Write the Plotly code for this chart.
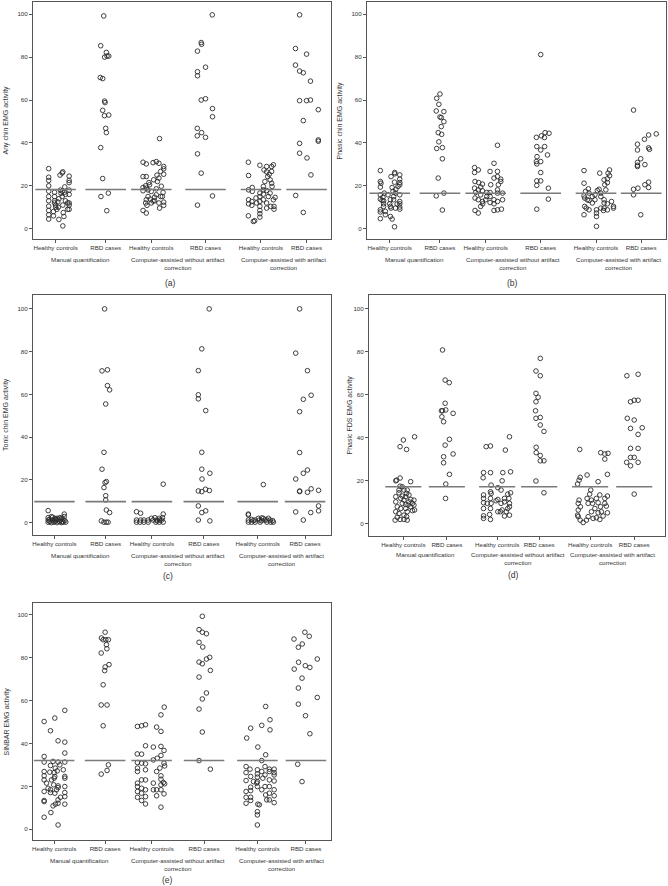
import plotly.graph_objects as go

# category labels
groups = ['Healthy controls', 'RBD cases'] * 3
methods = ['Manual quantification',
           'Computer-assisted without artifact<br>correction',
           'Computer-assisted with artifact<br>correction']
captions = ['(a)', '(b)', '(c)', '(d)', '(e)']
ytitles = ['Any chin EMG activity', 'Phasic chin EMG activity', 'Tonic chin EMG activity',
           'Phasic FDS EMG activity', 'SINBAR EMG activity']

# cut-off (horizontal line) per panel
cutoffs = [18.3, 16.5, 9.8, 17.2, 32.0]

# points as (jitter, value); jitter = horizontal scatter, -1..1
# ---- (a) any chin
a_hc_man = [(-0.32,28),(-0.32,24),(-0.32,22.5),(-0.32,20),(-0.32,17.5),(-0.32,15),(-0.32,13),(-0.32,10.5),(-0.32,8.5),(-0.32,6.5),(-0.32,4.5),
            (-0.05,17),(-0.05,15),(-0.05,13),(-0.05,12),(0,11),(0,10),(0.05,9),(-0.1,8),(-0.1,6),(0.15,14),(0.1,12.5),(0.12,10),(0.15,4.3),(0.2,25),
            (0.22,18),(0.25,16.5),(0.3,26),(0.33,26.5),(0.3,17.5),(0.3,15),(0.33,11),(0.35,7.5),(0.38,5.7),(0.33,1.3),(0.42,19.5),(0.4,17),(0.45,16),
            (0.45,13),(0.55,12),(0.55,9),(0.62,24.5),(0.62,22.5),(0.62,21.5),(0.62,18),(0.62,16),(0.62,12),(0.62,11),(0.62,9)]
a_rbd_man = [(-0.09,99.2),(-0.23,85.3),(0.03,82.2),(-0.05,80),(0.06,80.5),(0.14,80.5),(-0.25,70.5),(-0.14,70),(-0.05,59.5),(-0.03,58.8),(-0.14,55.2),
             (-0.06,52.7),(0.14,53),(0,46.8),(0.03,44.8),(-0.23,37.8),(-0.14,23.4),(0.12,16.6),(-0.22,15),(0.05,8.4)]
a_hc_wo = [(-0.38,31),(-0.23,30.2),(0.08,30.8),(0.23,31.3),(0.35,30.5),(0.38,42),(0.57,29),(0.57,27.9),(0.43,26.7),(0.57,25.4),(-0.38,24.3),(-0.23,24.3),
           (0.35,23.6),(0.11,22.8),(0.28,22),(-0.11,21.5),(-0.26,20),(-0.08,20.5),(-0.38,19.2),(-0.23,18.9),(-0.38,17.7),(-0.15,18.1),(0,17.4),(0.23,18.6),
           (0.54,16.9),(0.43,15),(0.23,15.8),(0.15,14.7),(-0.23,13.5),(-0.05,13.8),(0.15,13),(-0.26,12),(-0.2,10.9),(0.35,12),(0.57,12.4),(0.57,10.9),
           (0.08,12.9),(0.38,9.6),(-0.38,8.5),(-0.23,7.3),(0.51,15),(0,12),(-0.15,15),(0.26,25),(0.46,19.8)]
a_rbd_wo = [(0.31,99.7),(-0.2,86.8),(-0.18,86),(-0.37,82.8),(-0.37,73.2),(-0.37,71.3),(0,75.3),(-0.2,60),(0,60.6),(0.32,56),(0.32,52.2),(-0.38,46.8),
            (-0.18,44.8),(-0.38,43.3),(0,42.6),(-0.37,34.9),(-0.2,25.9),(0.32,15.3),(-0.37,11)]
a_hc_w = [(-0.58,31),(-0.57,24.8),(-0.4,19.2),(-0.4,17.4),(-0.57,18.1),(-0.57,13.5),(-0.57,11.6),(-0.42,10.9),(-0.42,12.7),(-0.58,6),(-0.29,3.7),
          (-0.05,5.4),(-0.05,7),(-0.05,8.5),(-0.05,10.4),(-0.05,12.7),(-0.05,15),(-0.05,16.6),(0.11,18.1),(0.11,19.7),(-0.05,29.6),(0.14,27.4),(0.26,29),
          (0.26,26.5),(0.31,24.3),(0.42,22.8),(0.49,21.2),(0.49,29),(0.38,25.4),(0.49,26.7),(0.57,29.8),(0.18,22),(0.11,13.5),(0.26,12),(0.34,15),
          (0.42,16.6),(0.51,19.7),(0.57,13.5),(0.6,10.4),(0.6,9.1),(0.45,10.4),(0.26,9.6),(0.65,14.6),(0.11,16.1),(0.26,17.8),(-0.23,14.3),(-0.2,12),(-0.35,3.4)]
a_rbd_w = [(-0.32,99.7),(-0.51,84),(0,81.4),(-0.51,76.3),(-0.32,73.5),(-0.15,72.7),(0.18,68.8),(-0.32,59.7),(0,59.7),(0.18,60),(0.54,55.5),(-0.15,50.4),
           (0.54,41.4),(0.54,40.8),(-0.32,39.8),(0.02,33),(-0.32,35.2),(0.2,25.1),(-0.5,15.5),(-0.15,7.6)]

# ---- (b) phasic chin
b_hc_man = [(-0.43,27.1),(-0.43,22),(-0.4,21.2),(-0.43,19.4),(-0.43,15.8),(-0.43,13.8),(-0.35,13.2),(-0.43,8.8),(-0.43,7.8),(-0.43,4.7),(-0.28,13),
            (-0.28,11.6),(-0.28,10.4),(-0.31,14.7),(-0.25,16.6),(-0.2,8.1),(-0.2,6.5),(0.03,13.5),(0.03,10.4),(0.06,9.6),(0,11.6),(0.03,5.7),(0.11,4.5),
            (0.22,0.9),(0.18,15),(0.15,17.4),(0.06,24.3),(0.23,25.6),(0.23,26.2),(0.22,21.7),(0.28,18.4),(0.26,16.6),(0.18,13.5),(0.26,9.6),(0.34,11.5),
            (0.38,19.7),(0.46,25.1),(0.46,23.1),(0.46,21.5),(0.46,20.5),(0.46,15.8),(0.46,12.7),(0.46,11.6),(0.46,10.1),(0.46,9.1),(0.11,19.2),(-0.08,15.8)]
b_rbd_man = [(0,62.8),(-0.15,60.8),(-0.05,58),(-0.17,54.9),(0.18,54.6),(0,52.1),(0.06,51.8),(0.18,49.9),(0.06,47.6),(-0.08,44.8),(0.08,44),(-0.05,40.5),
             (0.11,37.8),(-0.15,37.4),(0.11,32.6),(-0.08,23.6),(0.18,16.6),(-0.17,15.3),(0.11,8.7)]
b_hc_wo = [(-0.51,28.5),(-0.34,27.4),(-0.51,26.2),(-0.49,22),(-0.32,21.5),(-0.15,20.8),(-0.23,19.4),(-0.51,18.9),(-0.34,18.1),(-0.15,17.7),(-0.46,16.9),
           (-0.23,15.8),(-0.49,14.3),(-0.34,13.5),(-0.15,12.7),(-0.14,11.6),(-0.23,10.4),(-0.49,8.5),(-0.34,7.3),(0.2,26.7),(0.38,30.5),(0.54,38.9),
           (0.54,26.7),(0.38,23.6),(0.23,20.5),(0.2,16.9),(0.2,15),(0.2,12.2),(0.54,24.3),(0.69,23.1),(0.69,22),(0.58,20.5),(0.54,18.1),(0.54,16.6),
           (0.77,16.6),(0.77,13.5),(0.54,12.7),(0.38,11.6),(0.38,13.5),(0.38,8.5),(0.54,8.8),(0.72,9.1),(0.05,16.9),(0.05,15),(0,13.5)]
b_rbd_wo = [(0,81.2),(0.2,44.8),(0.38,44.5),(0.03,43.3),(-0.2,42.6),(0.17,42.5),(-0.18,38.3),(0.18,38.3),(0,36.7),(0.31,34.4),(-0.17,33.6),(-0.2,31.3),
            (0,31.3),(-0.18,30.2),(0,26.2),(-0.18,22.3),(0,22.3),(-0.18,20.2),(0.35,18.9),(0.35,13.8),(-0.18,9.1)]
b_hc_w = [(-0.55,27.1),(-0.55,21.2),(-0.48,17.4),(-0.55,15.3),(-0.52,14.3),(-0.4,13.5),(-0.32,16.6),(-0.35,18.6),(-0.52,10.4),(-0.45,9.6),(-0.32,8.8),
          (-0.32,13.2),(-0.55,6.5),(0.02,1.1),(0.02,5.7),(0.02,7.3),(0.02,8.8),(-0.05,13.5),(-0.05,15.8),(0.06,17.8),(0.14,18.4),(0.22,16.6),(0.17,25.9),
          (0.22,15),(0.37,13.5),(0.37,22.8),(0.4,20.5),(0.52,21.5),(0.52,23.3),(0.55,25.9),(0.62,27.4),(0.62,24.7),(0.45,18.1),(0.37,12),(0.52,11.6),
          (0.71,12.7),(0.8,10.4),(0.8,9.6),(0.22,9.6),(0.37,9.6),(0.34,8.5),(0.52,8.8),(-0.17,12),(-0.17,15)]
b_rbd_w = [(-0.35,55.3),(0.69,44.2),(0.34,43.7),(0.15,41.7),(-0.17,39.4),(-0.17,36.7),(0.34,37.7),(0.38,37),(-0.02,32.6),(-0.17,30.9),(-0.17,29.6),
           (0.17,29.9),(-0.17,29),(0.34,21.7),(0.17,20.5),(0.34,19.2),(-0.15,18.9),(-0.35,18.4),(-0.35,15.8),(-0.02,6.5)]

# ---- (c) tonic chin
c_hc_man = [(-0.29,5.6),(-0.29,2.3),(-0.29,1.2),(-0.29,0.2),(-0.14,2.8),(-0.09,1.2),(-0.14,0),(0.02,2),(0.06,0.9),(0.17,1.6),(0.12,0),(0.25,2.3),
            (0.28,1.2),(0.32,0),(0.4,1.6),(0.45,4),(0.45,2.8),(0.48,0.9),(0.52,0.2),(-0.03,0.2),(-0.22,0.5),(0.22,0.5),(0.37,0.5),(0.02,0.5),(0.12,2),
            (-0.09,2.5),(0.32,2),(-0.22,1.5),(0.06,1.5),(0.4,0.2)]
c_rbd_man = [(-0.05,100),(-0.17,71),(0.08,71.5),(0.08,64.1),(0.18,62.1),(0,55.5),(-0.08,32.9),(-0.17,25),(-0.03,18.7),(0.03,19.2),(-0.08,16.4),(0,12.6),
             (0,10.6),(0.03,5.9),(0.18,4.7),(-0.2,0.8),(-0.08,0.2),(0.03,0.2),(0.11,0.2)]
c_hc_wo = [(-0.71,5.1),(-0.52,4.4),(-0.71,1.2),(-0.71,0.2),(-0.52,1.2),(-0.37,1.2),(-0.37,0.2),(-0.55,0.2),(-0.02,2),(0.06,1.2),(0.14,2.3),(0.22,1.2),
           (0.34,2),(0.34,0.2),(0.18,0.2),(0.49,2.3),(0.52,4),(0.52,18),(0.45,1.2),(0.52,0.2),(-0.17,1.2),(-0.17,0.2),(0.37,1.2),(0.25,0.8)]
c_rbd_wo = [(0.25,100),(-0.09,81.3),(-0.25,71.1),(-0.25,59.8),(-0.25,57.9),(0.09,52.4),(-0.09,32.9),(-0.09,25),(0.28,23.1),(-0.08,20.4),(-0.25,14.8),
            (-0.09,14.5),(0.08,15.6),(0.26,15),(-0.25,7.8),(0.09,5.5),(-0.09,4.7),(-0.25,1.2),(0.28,0.8)]
c_hc_w = [(-0.43,4),(-0.43,3.6),(-0.43,1.2),(-0.43,0.2),(-0.28,0.2),(-0.12,1.2),(-0.12,0.2),(0.03,2),(0.08,1.2),(0.18,0.9),(0.26,17.8),(0.26,2),
          (0.34,1.2),(0.42,0.2),(0.49,2),(0.57,1.2),(0.6,0.2),(0.69,0.9),(0.72,0.2),(0.11,0.2),(-0.2,0.9),(0.42,1.2),(-0.28,1.5),(0.18,2.2)]
c_rbd_w = [(-0.25,100),(-0.43,79.3),(0.11,71.1),(-0.08,57.7),(0.28,59.6),(-0.25,51.9),(-0.25,32.8),(0.11,24.6),(-0.08,23.1),(-0.43,20.4),(-0.25,14.5),
           (-0.25,14.8),(0.28,15.8),(0.11,14.2),(0.62,15.1),(0.62,7.8),(0.62,5.5),(-0.43,5),(0.26,4.7),(-0.08,1.2)]

# ---- (d) phasic FDS
d_hc_man = [(-0.38,1.7),(-0.35,5.6),(-0.35,10.2),(-0.35,12.6),(-0.2,14.4),(-0.15,17.5),(-0.35,20),(-0.31,20.3),(-0.15,21.3),(-0.15,35.9),(0,39),
            (0.15,34.6),(0.52,40.5),(0.34,19.6),(-0.05,17.2),(0.03,15.7),(0.15,14.1),(0.11,12.6),(0.03,11),(-0.05,9.5),(-0.12,7.1),(-0.2,4.8),(-0.28,3),
            (-0.15,2),(0.03,2),(0.18,1.7),(0.15,3.3),(0.18,5.6),(0.11,7.1),(0.22,8.7),(0.26,10.2),(0.34,11.3),(0.42,9.5),(0.49,11),(0.49,8.7),(0.52,6.4),
            (0.42,6.1),(0.34,7.9),(0.03,4),(-0.05,12.9),(0.26,13.4),(-0.12,11.8),(0.11,9),(-0.28,7.9),(-0.2,15.7),(0.18,15.7)]
d_rbd_man = [(-0.2,80.9),(-0.08,66.9),(0.11,65.7),(-0.08,56.1),(-0.25,52.6),(-0.2,52.6),(-0.05,53),(-0.23,49.8),(-0.15,47.5),(0.29,51.4),(0.12,39.3),
             (-0.08,36.6),(0.29,32.5),(-0.15,31.2),(-0.15,28.4),(0.12,23),(-0.05,18.5),(-0.06,11.8)]
d_hc_wo = [(-0.51,35.9),(-0.31,36.2),(0.38,34.3),(0.57,40.5),(-0.63,23.8),(-0.65,21.4),(-0.31,23.8),(0.26,23.8),(0.23,20),(0.62,24.2),(-0.28,18),
           (0.03,16.8),(0.18,15.7),(-0.63,13.4),(-0.63,11.8),(-0.63,9.8),(-0.63,7.1),(-0.63,3.7),(-0.63,2.5),(-0.31,14.9),(-0.28,14.1),(-0.31,11.8),
           (-0.28,9.5),(-0.31,7.1),(-0.35,4.3),(-0.31,2),(-0.46,9.5),(-0.05,10.7),(0.03,11.3),(0.18,9.5),(0.34,11.8),(0.34,10.2),(0.49,13.8),(0.54,11.8),
           (0.57,9.5),(0.49,7.1),(0.42,5.6),(0.57,4),(0.34,3.6),(0.15,5.6),(0.03,5.6),(0.23,6.4),(0.62,14.4),(0.57,7.9)]
d_rbd_wo = [(0.05,77),(-0.15,71.1),(0.05,68.9),(-0.15,60.7),(-0.05,58.9),(-0.15,56.8),(-0.17,52.6),(-0.15,49.1),(0.05,49.5),(0.05,46),(0.22,43),
            (-0.14,35.6),(-0.14,33.1),(0.05,31.8),(0.05,29.3),(0.22,29.3),(-0.15,19.9),(0.22,14.4)]
d_hc_w = [(-0.48,34.6),(-0.46,21.6),(-0.51,20.3),(-0.58,18.5),(-0.51,11),(-0.55,9.5),(-0.45,7.9),(-0.55,6.4),(-0.58,4),(-0.55,3.3),(-0.46,1.7),
          (-0.32,0.6),(-0.17,1.7),(-0.09,3.3),(-0.14,22.7),(0.03,15.7),(0.06,11),(-0.09,9.5),(-0.14,11.8),(0.11,9.5),(0.06,5.6),(0.14,2.5),(0.29,2.8),
          (0.37,19.6),(0.29,11.8),(0.37,9.8),(0.48,7.9),(0.22,7.1),(0.49,33.1),(0.68,32.5),(0.83,32.8),(0.68,30.1),(0.8,23),(0.8,12.9),(0.68,9.5),
          (0.75,8.2),(0.8,5.1),(0.6,3.6),(0.45,2),(0.37,5.1),(0.68,11.8),(0.52,5.6),(-0.02,13.8),(0.45,13.4)]
d_rbd_w = [(-0.34,68.9),(0.18,69.6),(-0.17,56.8),(0,57.5),(0.18,57.5),(-0.32,49.1),(0,48.3),(-0.17,44.4),(0.37,44.7),(0.18,41.6),(-0.17,35.1),
           (0.18,35.1),(-0.17,30.9),(0,30.9),(-0.35,28.6),(-0.17,27),(0.18,28.6),(0,13.8)]

# ---- (e) SINBAR
e_hc_man = [(-0.46,50.2),(-0.17,45.9),(0.03,51.8),(0.49,55.4),(0.18,41.2),(0.49,40.6),(0.49,35.5),(-0.46,33.9),(-0.46,31.3),(0.49,31.3),(0.18,31.3),
            (-0.05,31.6),(0.26,30),(-0.17,29.7),(0.05,28.5),(0.14,27.2),(0.42,27.7),(0.49,24.6),(0.49,23.8),(-0.46,26.9),(-0.46,24.9),(-0.46,23),
            (-0.46,17.6),(-0.46,13.4),(-0.46,12.9),(-0.46,5.6),(-0.2,26.6),(-0.12,23),(-0.02,20.7),(-0.17,18.4),(-0.17,17.1),(0,26.4),(0.03,24.6),
            (0,23.8),(0.18,20.2),(0.18,19.4),(0.03,16.8),(0.18,13.7),(0.06,11.7),(0.18,12.1),(-0.15,7.8),(0.18,2),(0.49,19.9),(0.49,17.1),(0.49,15.2),
            (0.49,11.7),(0.29,14.9),(-0.35,21.5),(-0.28,19.1),(0.11,18.4),(-0.05,10.9)]
e_rbd_man = [(0,91.8),(-0.17,89.1),(-0.09,88.3),(0.03,88.3),(0.15,88.3),(0.06,86),(0.08,84.1),(-0.18,82.1),(0.18,76.7),(0,75.6),(-0.02,73.9),(-0.09,67.3),
             (-0.18,57.9),(0.09,57.9),(-0.09,48.2),(0.15,30),(0.09,27.4),(-0.18,25.7)]
e_hc_wo = [(-0.65,47.9),(-0.46,48.2),(-0.28,48.7),(0.23,47.6),(0.43,45.6),(0.43,53.3),(0.58,56.9),(-0.28,38.9),(-0.66,35.1),(-0.46,35),(0.08,38.3),
           (0.43,38.6),(0.57,36.7),(0.43,34.4),(-0.65,31.1),(-0.46,30.8),(-0.28,30.5),(0.08,32.3),(0.26,33.1),(0.57,30.8),(0.6,29.5),(-0.65,28.5),
           (-0.65,26.9),(-0.28,27.7),(0.23,26.9),(0.38,28.5),(0.43,24.9),(0.43,23.3),(0.54,21.8),(0.6,21.2),(0.43,20.7),(-0.65,21.5),(-0.65,19.9),
           (-0.46,23),(-0.28,23),(-0.46,19.1),(-0.65,17.6),(0.08,21.5),(0.08,18.4),(0.23,18.4),(0.43,18.4),(0.57,16.5),(0.23,15.6),(-0.65,14.9),
           (-0.46,13.4),(-0.28,11.8),(0.43,10.3),(-0.28,18.4),(-0.46,16.8),(-0.28,15.2)]
e_rbd_wo = [(-0.08,99.2),(-0.23,93),(-0.08,91.8),(0.11,91.1),(-0.23,87.1),(-0.06,84.9),(0.26,80.1),(0.11,79.3),(-0.23,77.9),(-0.08,77.1),(0.29,74),
            (-0.23,70.9),(0.11,63.5),(-0.08,60.7),(-0.23,56),(-0.08,45.3),(-0.23,32),(0.29,28)]
e_hc_w = [(-0.49,42.5),(-0.31,47.1),(0.2,48.4),(0.58,51),(0.38,57.2),(0.58,46.3),(0.02,38.3),(0.38,34.7),(-0.52,29.2),(-0.52,26.4),(-0.52,22.7),
          (-0.52,17.6),(-0.52,14.9),(-0.52,12.1),(-0.34,28),(-0.31,24.6),(-0.31,19.6),(-0.31,18),(-0.31,14.9),(-0.31,13.4),(0,27.7),(0,25.8),(0,24.3),
          (0,22.2),(-0.03,21.5),(0,19.9),(0,8.2),(0,6.7),(0,2),(0.09,11.4),(0.02,11.7),(0.2,32),(0.2,26.9),(0.25,23.8),(0.35,29.2),(0.35,25.3),
          (0.35,19.9),(0.38,16),(0.43,13.7),(0.55,28),(0.55,26.9),(0.55,23),(0.55,19.9),(0.55,16.8),(0.55,13.7),(0.77,28),(0.77,26.4),(0.77,25.3),
          (0.77,22.5),(0.77,18.4),(0.77,15.6),(0.77,12.4),(0.2,18.4),(-0.18,22.2)]
e_rbd_w = [(-0.05,91.8),(0.15,89.9),(-0.55,88.6),(-0.35,84.8),(-0.17,86.3),(0.52,79.3),(-0.34,77.8),(-0.03,76.2),(0.18,75.4),(-0.54,74.6),(-0.18,70.4),
           (-0.35,65.8),(0.52,61.4),(-0.35,58.3),(-0.02,52.9),(0.18,44.5),(-0.38,30.3),(-0.18,22.2)]

panel_data = [
    [a_hc_man, a_rbd_man, a_hc_wo, a_rbd_wo, a_hc_w, a_rbd_w],
    [b_hc_man, b_rbd_man, b_hc_wo, b_rbd_wo, b_hc_w, b_rbd_w],
    [c_hc_man, c_rbd_man, c_hc_wo, c_rbd_wo, c_hc_w, c_rbd_w],
    [d_hc_man, d_rbd_man, d_hc_wo, d_rbd_wo, d_hc_w, d_rbd_w],
    [e_hc_man, e_rbd_man, e_hc_wo, e_rbd_wo, e_hc_w, e_rbd_w],
]

# layout of the five panels (category centres as fraction of the x axis)
centers = [
    [0.076, 0.244, 0.397, 0.579, 0.765, 0.918],
    [0.076, 0.244, 0.397, 0.581, 0.766, 0.917],
    [0.072, 0.244, 0.399, 0.573, 0.754, 0.913],
    [0.116, 0.263, 0.433, 0.575, 0.747, 0.896],
    [0.071, 0.242, 0.398, 0.574, 0.753, 0.916],
]
W, H = 668, 886
boxes = [  # left, right, top, bottom in px
    (33, 331, 2, 239), (367, 666, 2, 239),
    (33, 331, 295, 535), (369, 665, 295, 536),
    (33, 331, 603, 840),
]
yranges = [[-4.8, 105.7], [-4.8, 105.7], [-5.8, 106.5], [-5.7, 106.5], [-5.0, 105.4]]
cap_pos = [(170, 283), (512, 283), (168, 576), (513, 575), (167, 880)]
title_shift = [-27, -27, -27, -20, -27]
line_half = [0.068, 0.068, 0.068, 0.061, 0.068]
JIT = 0.073

FONT = 'Liberation Sans, Arial, sans-serif'
TXT = '#333333'
AX = '#555555'

fig = go.Figure()
annotations = []
layout_axes = {}

for i in range(5):
    n = '' if i == 0 else str(i + 1)
    xr, yr = 'x' + n, 'y' + n
    for k, pts in enumerate(panel_data[i]):
        c = centers[i][k]
        fig.add_trace(go.Scatter(
            x=[c + j * JIT for j, v in pts], y=[v for j, v in pts],
            xaxis=xr, yaxis=yr, mode='markers', showlegend=False,
            marker=dict(symbol='circle-open', size=4.6, color='#2b2b2b', line=dict(width=0.9)),
            hoverinfo='y'))
        lw = line_half[i]
        fig.add_trace(go.Scatter(
            x=[c - lw, c + lw], y=[cutoffs[i], cutoffs[i]], xaxis=xr, yaxis=yr,
            mode='lines', showlegend=False, hoverinfo='skip',
            line=dict(color='#7a7a7a', width=1.6)))

    l, r, t, b = boxes[i]
    common = dict(showline=True, mirror=True, linecolor=AX, linewidth=1,
                  ticks='outside', ticklen=3, tickcolor=AX, tickwidth=1,
                  showgrid=False, zeroline=False,
                  tickfont=dict(family=FONT, size=6.2, color=TXT))
    layout_axes['xaxis' + n] = dict(common, domain=[l / W, r / W], anchor=yr, range=[0, 1],
                                    tickvals=centers[i], ticktext=groups)
    layout_axes['yaxis' + n] = dict(common, domain=[1 - b / H, 1 - t / H], anchor=xr,
                                    range=yranges[i], tickvals=[0, 20, 40, 60, 80, 100])

    # y title
    annotations.append(dict(text=ytitles[i], xref=xr + ' domain', yref=yr + ' domain',
                            x=0, y=0.5, xshift=title_shift[i], xanchor='center', yanchor='middle',
                            textangle=-90, showarrow=False,
                            font=dict(family=FONT, size=7, color=TXT)))
    # method labels under each pair
    for m in range(3):
        mid = (centers[i][2 * m] + centers[i][2 * m + 1]) / 2
        annotations.append(dict(text=methods[m], xref=xr, yref=yr + ' domain', x=mid, y=0,
                                yanchor='top', yshift=-15 if i != 3 else -13, showarrow=False,
                                font=dict(family=FONT, size=6.2, color=TXT)))
    cx, cy = cap_pos[i]
    annotations.append(dict(text=captions[i], xref='paper', yref='paper', x=cx / W, y=1 - cy / H,
                            xanchor='center', yanchor='middle', showarrow=False,
                            font=dict(family=FONT, size=8.5, color=TXT)))

fig.update_layout(width=W, height=H, margin=dict(l=0, r=0, t=0, b=0),
                  paper_bgcolor='white', plot_bgcolor='white',
                  annotations=annotations, **layout_axes)

# drop the browser's default page margin so the figure sits at 0,0
fig.write_html('out.html', config={'displayModeBar': False},
               post_script="document.body.style.margin='0';document.body.style.overflow='hidden';")
